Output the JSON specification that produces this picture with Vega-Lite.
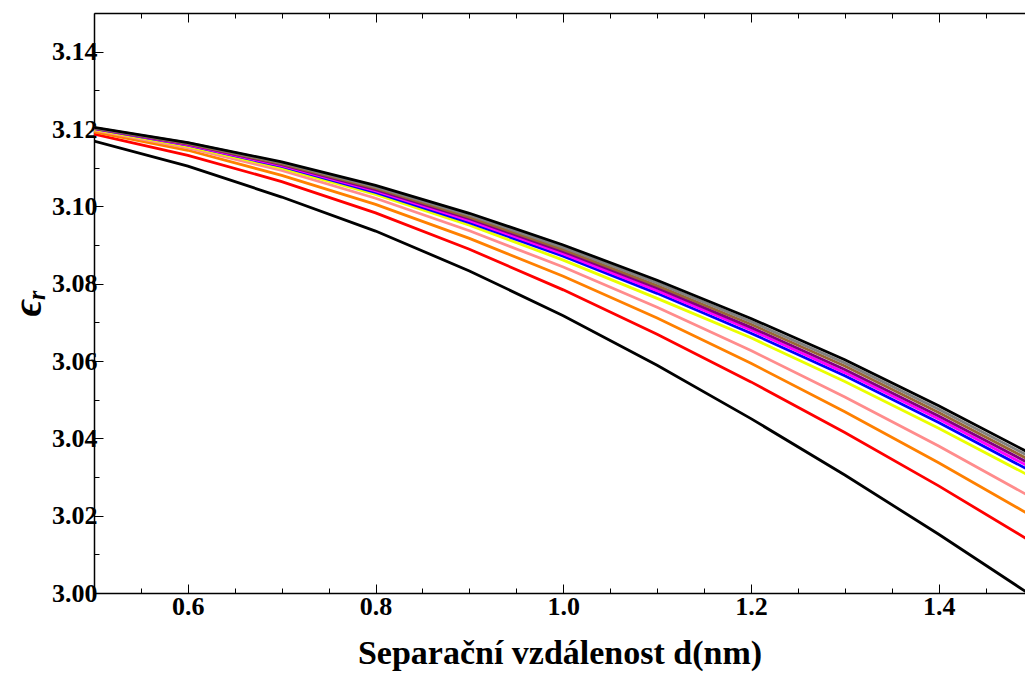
{
  "$schema": "https://vega.github.io/schema/vega-lite/v6.json",
  "width": 931,
  "height": 580,
  "autosize": {"type": "none"},
  "padding": {"left": 94, "top": 13, "right": 0, "bottom": 80},
  "background": "white",
  "data": {"values": [
    {"d":0.5,"e":3.1169,"c":"k1"},{"d":0.6,"e":3.1104,"c":"k1"},{"d":0.7,"e":3.1024,"c":"k1"},{"d":0.8,"e":3.0936,"c":"k1"},{"d":0.9,"e":3.0833,"c":"k1"},{"d":1.0,"e":3.0717,"c":"k1"},{"d":1.1,"e":3.0589,"c":"k1"},{"d":1.2,"e":3.0451,"c":"k1"},{"d":1.3,"e":3.0305,"c":"k1"},{"d":1.4,"e":3.0152,"c":"k1"},{"d":1.5,"e":2.9992,"c":"k1"},
    {"d":0.5,"e":3.1187,"c":"red"},{"d":0.6,"e":3.1132,"c":"red"},{"d":0.7,"e":3.1064,"c":"red"},{"d":0.8,"e":3.0983,"c":"red"},{"d":0.9,"e":3.0889,"c":"red"},{"d":1.0,"e":3.0784,"c":"red"},{"d":1.1,"e":3.0669,"c":"red"},{"d":1.2,"e":3.0546,"c":"red"},{"d":1.3,"e":3.0415,"c":"red"},{"d":1.4,"e":3.0277,"c":"red"},{"d":1.5,"e":3.0131,"c":"red"},
    {"d":0.5,"e":3.1193,"c":"orange"},{"d":0.6,"e":3.1145,"c":"orange"},{"d":0.7,"e":3.1080,"c":"orange"},{"d":0.8,"e":3.1005,"c":"orange"},{"d":0.9,"e":3.0917,"c":"orange"},{"d":1.0,"e":3.0819,"c":"orange"},{"d":1.1,"e":3.0711,"c":"orange"},{"d":1.2,"e":3.0594,"c":"orange"},{"d":1.3,"e":3.0469,"c":"orange"},{"d":1.4,"e":3.0337,"c":"orange"},{"d":1.5,"e":3.0198,"c":"orange"},
    {"d":0.5,"e":3.1197,"c":"pink"},{"d":0.6,"e":3.1151,"c":"pink"},{"d":0.7,"e":3.1093,"c":"pink"},{"d":0.8,"e":3.1021,"c":"pink"},{"d":0.9,"e":3.0937,"c":"pink"},{"d":1.0,"e":3.0843,"c":"pink"},{"d":1.1,"e":3.0739,"c":"pink"},{"d":1.2,"e":3.0627,"c":"pink"},{"d":1.3,"e":3.0507,"c":"pink"},{"d":1.4,"e":3.0380,"c":"pink"},{"d":1.5,"e":3.0246,"c":"pink"},
    {"d":0.5,"e":3.1199,"c":"yellow"},{"d":0.6,"e":3.1155,"c":"yellow"},{"d":0.7,"e":3.1099,"c":"yellow"},{"d":0.8,"e":3.1031,"c":"yellow"},{"d":0.9,"e":3.0951,"c":"yellow"},{"d":1.0,"e":3.0861,"c":"yellow"},{"d":1.1,"e":3.0762,"c":"yellow"},{"d":1.2,"e":3.0660,"c":"yellow"},{"d":1.3,"e":3.0547,"c":"yellow"},{"d":1.4,"e":3.0426,"c":"yellow"},{"d":1.5,"e":3.0299,"c":"yellow"},
    {"d":0.5,"e":3.1201,"c":"blue"},{"d":0.6,"e":3.1158,"c":"blue"},{"d":0.7,"e":3.1103,"c":"blue"},{"d":0.8,"e":3.1036,"c":"blue"},{"d":0.9,"e":3.0958,"c":"blue"},{"d":1.0,"e":3.0871,"c":"blue"},{"d":1.1,"e":3.0775,"c":"blue"},{"d":1.2,"e":3.0672,"c":"blue"},{"d":1.3,"e":3.0562,"c":"blue"},{"d":1.4,"e":3.0441,"c":"blue"},{"d":1.5,"e":3.0313,"c":"blue"},
    {"d":0.5,"e":3.1202,"c":"magenta"},{"d":0.6,"e":3.1159,"c":"magenta"},{"d":0.7,"e":3.1105,"c":"magenta"},{"d":0.8,"e":3.1040,"c":"magenta"},{"d":0.9,"e":3.0963,"c":"magenta"},{"d":1.0,"e":3.0877,"c":"magenta"},{"d":1.1,"e":3.0782,"c":"magenta"},{"d":1.2,"e":3.0680,"c":"magenta"},{"d":1.3,"e":3.0570,"c":"magenta"},{"d":1.4,"e":3.0450,"c":"magenta"},{"d":1.5,"e":3.0322,"c":"magenta"},
    {"d":0.5,"e":3.1202,"c":"purple"},{"d":0.6,"e":3.1161,"c":"purple"},{"d":0.7,"e":3.1108,"c":"purple"},{"d":0.8,"e":3.1043,"c":"purple"},{"d":0.9,"e":3.0968,"c":"purple"},{"d":1.0,"e":3.0883,"c":"purple"},{"d":1.1,"e":3.0789,"c":"purple"},{"d":1.2,"e":3.0687,"c":"purple"},{"d":1.3,"e":3.0578,"c":"purple"},{"d":1.4,"e":3.0458,"c":"purple"},{"d":1.5,"e":3.0331,"c":"purple"},
    {"d":0.5,"e":3.1203,"c":"brown"},{"d":0.6,"e":3.1162,"c":"brown"},{"d":0.7,"e":3.1110,"c":"brown"},{"d":0.8,"e":3.1047,"c":"brown"},{"d":0.9,"e":3.0972,"c":"brown"},{"d":1.0,"e":3.0888,"c":"brown"},{"d":1.1,"e":3.0795,"c":"brown"},{"d":1.2,"e":3.0695,"c":"brown"},{"d":1.3,"e":3.0587,"c":"brown"},{"d":1.4,"e":3.0467,"c":"brown"},{"d":1.5,"e":3.0340,"c":"brown"},
    {"d":0.5,"e":3.1203,"c":"gray"},{"d":0.6,"e":3.1164,"c":"gray"},{"d":0.7,"e":3.1113,"c":"gray"},{"d":0.8,"e":3.1050,"c":"gray"},{"d":0.9,"e":3.0977,"c":"gray"},{"d":1.0,"e":3.0894,"c":"gray"},{"d":1.1,"e":3.0802,"c":"gray"},{"d":1.2,"e":3.0702,"c":"gray"},{"d":1.3,"e":3.0595,"c":"gray"},{"d":1.4,"e":3.0475,"c":"gray"},{"d":1.5,"e":3.0349,"c":"gray"},
    {"d":0.5,"e":3.1204,"c":"k2"},{"d":0.6,"e":3.1165,"c":"k2"},{"d":0.7,"e":3.1115,"c":"k2"},{"d":0.8,"e":3.1054,"c":"k2"},{"d":0.9,"e":3.0982,"c":"k2"},{"d":1.0,"e":3.0900,"c":"k2"},{"d":1.1,"e":3.0809,"c":"k2"},{"d":1.2,"e":3.0710,"c":"k2"},{"d":1.3,"e":3.0603,"c":"k2"},{"d":1.4,"e":3.0484,"c":"k2"},{"d":1.5,"e":3.0358,"c":"k2"}
  ]},
  "layer": [
    {
      "mark": {"type": "line", "strokeWidth": 2.8, "clip": true},
      "encoding": {
        "x": {"field": "d", "type": "quantitative",
          "scale": {"domain": [0.5, 1.492], "nice": false, "zero": false},
          "axis": {"orient": "bottom", "title": "Separační vzdálenost d(nm)",
            "values": [0.5,0.55,0.6,0.65,0.7,0.75,0.8,0.85,0.9,0.95,1.0,1.05,1.1,1.15,1.2,1.25,1.3,1.35,1.4,1.45],
            "labelExpr": "abs(datum.value*5-round(datum.value*5))<0.001 ? format(datum.value,'.1f') : ''",
            "tickSize": {"condition": {"test": "abs(datum.value*5-round(datum.value*5))<0.001", "value": -9}, "value": -5},
            "labelFontSize": 26, "labelPadding": 9, "labelFlush": false, "labelOverlap": false,
            "titleFontSize": 34, "titleFontWeight": "bold", "titlePadding": 13}},
        "y": {"field": "e", "type": "quantitative",
          "scale": {"domain": [3.0, 3.15], "nice": false, "zero": false},
          "axis": {"orient": "left", "title": "ϵᵣ",
            "values": [3.0,3.005,3.01,3.015,3.02,3.025,3.03,3.035,3.04,3.045,3.05,3.055,3.06,3.065,3.07,3.075,3.08,3.085,3.09,3.095,3.1,3.105,3.11,3.115,3.12,3.125,3.13,3.135,3.14,3.145],
            "labelExpr": "abs(datum.value*50-round(datum.value*50))<0.001 ? format(datum.value,'.2f') : ''",
            "tickSize": {"condition": {"test": "abs(datum.value*50-round(datum.value*50))<0.001", "value": -9}, "value": -5},
            "labelFontSize": 26, "labelPadding": 6, "labelFlush": false, "labelOverlap": false,
            "titleFontSize": 40, "titleFontStyle": "italic", "titleFontWeight": "bold", "titlePadding": 3}},
        "color": {"field": "c", "type": "nominal", "legend": null,
          "scale": {"domain": ["k1","red","orange","pink","yellow","blue","magenta","purple","brown","gray","k2"],
            "range": ["#000000","#ff0000","#ff8000","#ff8c8c","#eaff00","#0000ff","#ff00ff","#800080","#996633","#808080","#000000"]}}
      }
    },
    {
      "mark": {"type": "line", "strokeOpacity": 0, "clip": true},
      "encoding": {
        "x": {"field": "d", "type": "quantitative",
          "axis": {"orient": "top", "title": null, "labels": false,
            "values": [0.5,0.55,0.6,0.65,0.7,0.75,0.8,0.85,0.9,0.95,1.0,1.05,1.1,1.15,1.2,1.25,1.3,1.35,1.4,1.45],
            "tickSize": {"condition": {"test": "abs(datum.value*5-round(datum.value*5))<0.001", "value": -9}, "value": -5}}},
        "y": {"field": "e", "type": "quantitative"},
        "detail": {"field": "c", "type": "nominal"}
      }
    }
  ],
  "resolve": {"axis": {"x": "independent"}},
  "config": {
    "view": {"stroke": null},
    "axis": {"grid": false, "domainColor": "#000000", "domainWidth": 1.5, "tickColor": "#000000", "tickWidth": 1,
      "labelFont": "Liberation Serif", "labelFontWeight": "bold", "labelColor": "#000000",
      "titleFont": "Liberation Serif", "titleColor": "#000000"}
  }
}
